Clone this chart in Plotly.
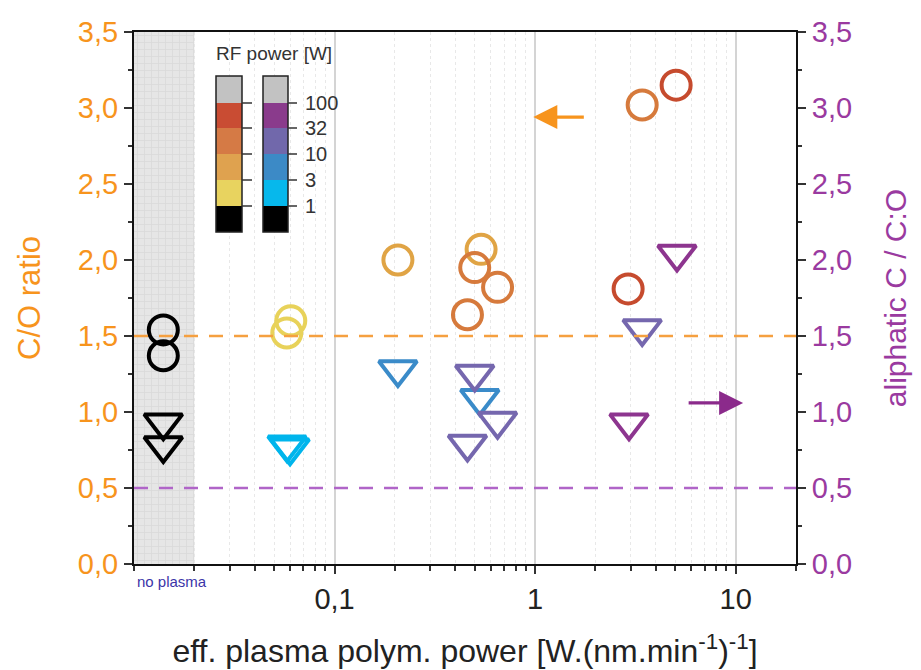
import plotly.graph_objects as go
import math

# ---------------- data ----------------
power_groups = ["none", "1-3", "3-10", "10-32", "32-100"]

# C/O ratio (circles, left axis)
co_x = [0.014, 0.014, 0.0605, 0.0578, 0.207, 0.538, 0.50, 0.65, 0.46, 2.91, 3.42, 5.05]
co_y = [1.54, 1.37, 1.60, 1.52, 2.00, 2.07, 1.95, 1.82, 1.64, 1.81, 3.02, 3.15]
co_group = ["none", "none", "1-3", "1-3", "3-10", "3-10", "10-32", "10-32", "10-32", "32-100", "10-32", "32-100"]

# aliphatic C / C:O (triangles, right axis)
al_x = [0.014, 0.014, 0.058, 0.060, 0.207, 0.53, 0.50, 0.65, 0.46, 2.94, 3.42, 5.1]
al_y = [0.93, 0.78, 0.785, 0.765, 1.28, 1.09, 1.25, 0.94, 0.79, 0.93, 1.55, 2.04]
al_group = ["none", "none", "1-3", "1-3", "3-10", "3-10", "10-32", "10-32", "10-32", "32-100", "10-32", "32-100"]

co_colors = {"none": "#000000", "1-3": "#e8d25a", "3-10": "#e0a445", "10-32": "#d67a3c", "32-100": "#c64b2e"}
al_colors = {"none": "#000000", "1-3": "#00b5ec", "3-10": "#3a8bc9", "10-32": "#7567ae", "32-100": "#8d358f"}

# colour key
key_labels = ["100", "32", "10", "3", "1"]
key_left_colors = ["#c2c2c2", "#c94c33", "#d57a45", "#dfa24f", "#e8d35f", "#000000"]
key_right_colors = ["#c2c2c2", "#8a3b8c", "#7168ab", "#3c8ac6", "#06b8ec", "#000000"]

x_ticks = [0.1, 1, 10]
x_ticktext = ["0,1", "1", "10"]
no_plasma_span = [0.01, 0.02]
co_reference = 1.5
al_reference = 0.5
y_max = 3.5
x_range = [0.01, 20]

ORANGE = "#f7941d"
PURPLE = "#9a3aa0"
FONT = "Liberation Sans, Arial, sans-serif"

fig = go.Figure()

# no plasma band
fig.add_trace(go.Scatter(
    x=[no_plasma_span[0], no_plasma_span[1], no_plasma_span[1], no_plasma_span[0], no_plasma_span[0]],
    y=[0, 0, y_max, y_max, 0],
    fill="toself", mode="lines", line=dict(width=0),
    fillcolor="#e4e4e4",
    fillpattern=dict(shape="+", fgcolor="#cccccc", bgcolor="#e6e6e6", size=7, solidity=0.2),
    hoverinfo="skip", showlegend=False))

for g in power_groups:
    xs = [x for x, gg in zip(co_x, co_group) if gg == g]
    ys = [y for y, gg in zip(co_y, co_group) if gg == g]
    fig.add_trace(go.Scatter(
        x=xs, y=ys, mode="markers", name="C/O " + g, showlegend=False,
        marker=dict(symbol="circle-open", size=29, color=co_colors[g],
                    line=dict(width=4, color=co_colors[g]))))

for g in power_groups:
    xs = [x for x, gg in zip(al_x, al_group) if gg == g]
    ys = [y for y, gg in zip(al_y, al_group) if gg == g]
    fig.add_trace(go.Scatter(
        x=xs, y=ys, mode="markers", name="aliph " + g, showlegend=False, yaxis="y2",
        marker=dict(symbol="triangle-down-open", size=33, color=al_colors[g],
                    line=dict(width=4, color=al_colors[g]))))

shapes = []
shapes.append(dict(type="line", xref="paper", x0=0, x1=1, yref="y", y0=co_reference, y1=co_reference,
                   line=dict(color="#f5a040", width=2.5, dash="14px,11px"), layer="above"))
shapes.append(dict(type="line", xref="paper", x0=0, x1=1, yref="y", y0=al_reference, y1=al_reference,
                   line=dict(color="#b065c8", width=2.5, dash="14px,11px"), layer="above"))

# colour key (paper coordinates)
def px2x(p):
    return (p - 134) / 662.0

def px2y(p):
    return (564 - p) / 532.0

bounds = [76, 103, 128, 154, 180, 206, 232]
for (bx0, bx1, cols, tx0, tx1) in [(216, 242, key_left_colors, 242, 252), (263, 288, key_right_colors, 288, 297)]:
    for i, c in enumerate(cols):
        shapes.append(dict(type="rect", xref="paper", yref="paper",
                           x0=px2x(bx0), x1=px2x(bx1), y0=px2y(bounds[i + 1]), y1=px2y(bounds[i]),
                           fillcolor=c, line=dict(width=0)))
    shapes.append(dict(type="rect", xref="paper", yref="paper",
                       x0=px2x(bx0), x1=px2x(bx1), y0=px2y(bounds[-1]), y1=px2y(bounds[0]),
                       line=dict(color="#222222", width=1.5)))
    for b in bounds[1:-1]:
        shapes.append(dict(type="line", xref="paper", yref="paper",
                           x0=px2x(tx0), x1=px2x(tx1), y0=px2y(b), y1=px2y(b),
                           line=dict(color="#333333", width=1.5)))

annotations = []
for lab, b in zip(key_labels, bounds[1:-1]):
    annotations.append(dict(text=lab, xref="paper", yref="paper", x=px2x(303), y=px2y(b),
                            xanchor="left", yanchor="middle", showarrow=False,
                            font=dict(size=20, color="#333333", family=FONT)))
annotations.append(dict(text="RF power [W]", xref="paper", yref="paper", x=px2x(274), y=px2y(53),
                        xanchor="center", yanchor="middle", showarrow=False,
                        font=dict(size=19, color="#333333", family=FONT)))
annotations.append(dict(text="no plasma", xref="paper", yref="paper", x=px2x(172), y=px2y(581),
                        xanchor="center", yanchor="middle", showarrow=False,
                        font=dict(size=15, color="#3b35a8", family=FONT)))
# arrows pointing to the axes
annotations.append(dict(x=math.log10(0.98), y=2.94, xref="x", yref="y", text="", showarrow=True,
                        ax=52, ay=0, arrowhead=2, arrowsize=1.5, arrowwidth=3.2, arrowcolor=ORANGE))
annotations.append(dict(x=math.log10(10.9), y=1.06, xref="x", yref="y2", text="", showarrow=True,
                        ax=-56, ay=0, arrowhead=2, arrowsize=1.5, arrowwidth=3.2, arrowcolor="#8b2a8b"))

yaxis_common = dict(range=[0, y_max], dtick=0.5, tickformat=".1f", showgrid=False, zeroline=False,
                    showline=True, linecolor="#111111", linewidth=2, ticks="outside", ticklen=8,
                    tickwidth=2, tickcolor="#333333", automargin=False,
                    minor=dict(dtick=0.25, ticks="outside", ticklen=4, tickcolor="#333333", tickwidth=1.5))

fig.update_layout(
    width=921, height=670,
    margin=dict(l=134, r=125, t=32, b=106),
    paper_bgcolor="white", plot_bgcolor="white",
    separators=",.",
    font=dict(family=FONT, size=29, color="#222222"),
    shapes=shapes, annotations=annotations,
    xaxis=dict(type="log", range=[math.log10(x_range[0]), math.log10(x_range[1])],
               tickvals=x_ticks, ticktext=x_ticktext,
               showgrid=True, gridcolor="#d4d4d4", gridwidth=1.5,
               showline=True, linecolor="#111111", linewidth=2, mirror=True,
               ticks="outside", ticklen=8, tickwidth=2, tickcolor="#333333",
               tickfont=dict(size=29, color="#222222"),
               zeroline=False, automargin=False,
               minor=dict(ticks="outside", ticklen=5, tickwidth=1.5, tickcolor="#333333",
                          showgrid=True, gridcolor="#e8e8e8", griddash="dot", gridwidth=1, dtick="D1"),
               title=dict(text="eff. plasma polym. power [W.(nm.min<sup>-1</sup>)<sup>-1</sup>]",
                          font=dict(size=32, color="#222222"), standoff=26)),
    yaxis=dict(**yaxis_common, side="left", tickfont=dict(size=29, color=ORANGE),
               title=dict(text="C/O ratio", font=dict(size=31, color=ORANGE), standoff=28)),
    yaxis2=dict(**yaxis_common, side="right", overlaying="y", tickfont=dict(size=29, color=PURPLE),
                title=dict(text="aliphatic C / C:O", font=dict(size=30, color=PURPLE), standoff=34)),
)

fig.write_html("out.html", config={"displayModeBar": False},
               post_script="document.body.style.margin='0';")
